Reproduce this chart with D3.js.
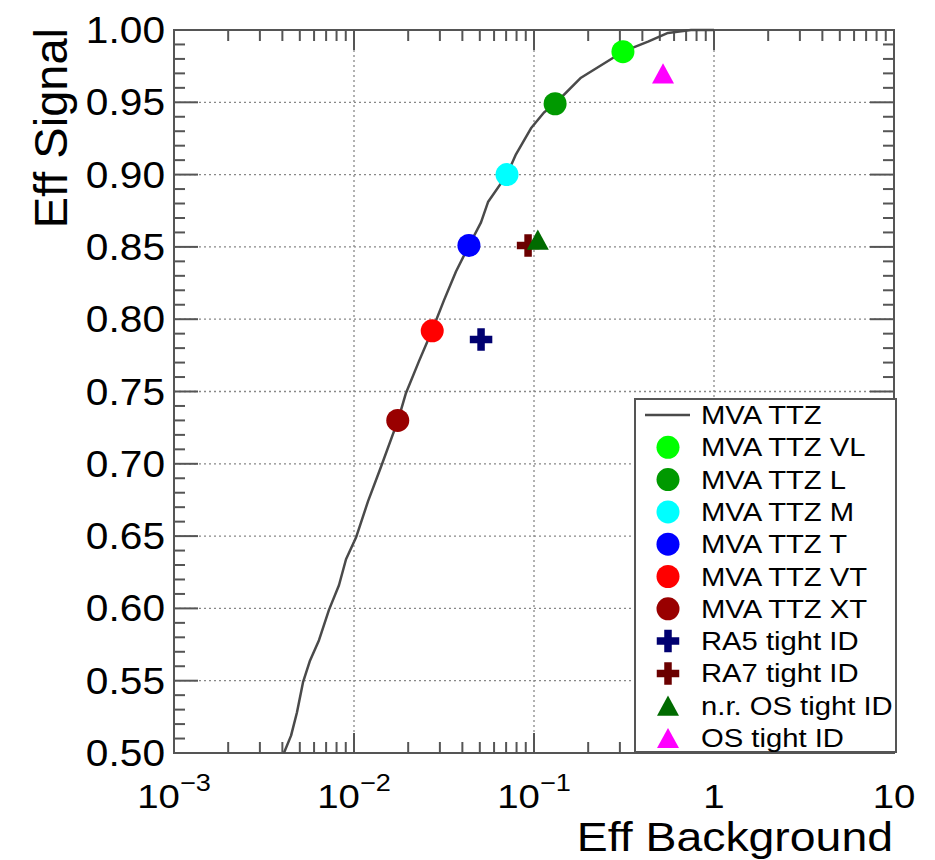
<!DOCTYPE html>
<html><head><meta charset="utf-8">
<script src="https://cdn.jsdelivr.net/npm/d3@7"></script>
<style>body{margin:0;background:#fff}svg{display:block}text{font-family:"Liberation Sans",Arial,sans-serif;fill:#000}</style>
</head><body>
<script>
// ROC curve (MVA TTZ)
const curveFpr = [0.00408,0.00447,0.00482,0.00521,0.0057,0.00639,0.00726,0.00825,0.00903,0.01026,0.01196,0.01413,0.01755,0.01945,0.02297,0.02712,0.0316,0.03687,0.04355,0.05077,0.05553,0.0708,0.0794,0.0962,0.1136,0.1308,0.1824,0.312,0.43,0.555,0.745,1.0];
const curveTpr = [0.500,0.512,0.528,0.549,0.564,0.578,0.599,0.616,0.634,0.649,0.674,0.698,0.730,0.749,0.771,0.792,0.813,0.833,0.851,0.867,0.881,0.900,0.914,0.932,0.943,0.949,0.967,0.985,0.992,0.998,1.0,1.0];
// working points
const pointNames = ["MVA TTZ VL","MVA TTZ L","MVA TTZ M","MVA TTZ T","MVA TTZ VT","MVA TTZ XT","RA5 tight ID","RA7 tight ID","n.r. OS tight ID","OS tight ID"];
const pointFpr = [0.312,0.131,0.0708,0.0435,0.0272,0.0175,0.0508,0.0927,0.105,0.521];
const pointTpr = [0.985,0.949,0.900,0.851,0.792,0.730,0.786,0.851,0.855,0.970];
const pointShape = ["circle","circle","circle","circle","circle","circle","cross","cross","triangle","triangle"];
const pointColor = ["#00ff00","#009900","#00ffff","#0000ff","#ff0000","#990000","#000070","#6b0000","#006b00","#ff00ff"];
const curveName = "MVA TTZ";
const xTickLabels = [["10","\u22123"],["10","\u22122"],["10","\u22121"],["1",""],["10",""]];
const xTickValues = [1e-3,1e-2,1e-1,1,10];
const xTitle = "Eff Background", yTitle = "Eff Signal";

const W=935,H=860, L=174, R=894, T=30, B=753, SX=1.13, SXL=1.17;
const svg = d3.select("body").append("svg").attr("width",W).attr("height",H);
const x = d3.scaleLog().domain([1e-3,10]).range([L,R]);
const y = d3.scaleLinear().domain([0.5,1]).range([B,T]);
const axisCol="#555";

// grid
const gx=[1e-2,1e-1,1], gy=d3.range(0.55,0.999,0.05);
svg.append("g").selectAll("line").data(gx).join("line")
  .attr("x1",d=>x(d)).attr("x2",d=>x(d)).attr("y1",T).attr("y2",B)
  .attr("stroke","#888").attr("stroke-width",1.3).attr("stroke-dasharray","2,3");
svg.append("g").selectAll("line").data(gy).join("line")
  .attr("y1",d=>y(d)).attr("y2",d=>y(d)).attr("x1",L).attr("x2",R)
  .attr("stroke","#888").attr("stroke-width",1.3).attr("stroke-dasharray","2,3");

// ticks
const xt = x.ticks();
const isMajX = d=>Math.abs(Math.log10(d)-Math.round(Math.log10(d)))<1e-6;
const tg = svg.append("g").attr("stroke",axisCol).attr("stroke-width",2);
xt.forEach(d=>{const len=isMajX(d)?20:11;
  tg.append("line").attr("x1",x(d)).attr("x2",x(d)).attr("y1",B).attr("y2",B-len);
  tg.append("line").attr("x1",x(d)).attr("x2",x(d)).attr("y1",T).attr("y2",T+len);});
const yt = d3.range(0,51).map(i=>0.5+i*0.01);
yt.forEach((d,i)=>{const len=(i%5===0)?24:11;
  tg.append("line").attr("y1",y(d)).attr("y2",y(d)).attr("x1",L).attr("x2",L+len);
  tg.append("line").attr("y1",y(d)).attr("y2",y(d)).attr("x1",R).attr("x2",R-len);});

// frame
svg.append("rect").attr("x",L).attr("y",T).attr("width",R-L).attr("height",B-T)
  .attr("fill","none").attr("stroke",axisCol).attr("stroke-width",2);

// y tick labels
yt.filter((d,i)=>i%5===0).forEach(d=>{
  svg.append("text").attr("transform",`translate(165,${y(d)+13}) scale(${SX},1)`)
    .attr("text-anchor","end").attr("font-size",36).text(d3.format(".2f")(d));
});
// x tick labels
xTickValues.forEach((v,i)=>{
  const t=svg.append("text").attr("transform",`translate(${x(v)},808) scale(${SX},1)`)
    .attr("text-anchor","middle").attr("font-size",34);
  t.append("tspan").text(xTickLabels[i][0]);
  if(xTickLabels[i][1]) t.append("tspan").attr("font-size",24).attr("dy",-17).text(xTickLabels[i][1]);
});
// axis titles
svg.append("text").attr("transform",`translate(893,851) scale(1.16,1)`).attr("text-anchor","end")
  .attr("font-size",40).text(xTitle);
svg.append("text").attr("transform",`translate(67,28) rotate(-90)`).attr("text-anchor","end")
  .attr("font-size",47).text(yTitle);

// curve
const pts = curveFpr.map((f,i)=>[f,curveTpr[i]]);
svg.append("path").datum(pts).attr("fill","none").attr("stroke","#4a4a4a").attr("stroke-width",2.5)
  .attr("stroke-linejoin","round")
  .attr("d",d3.line().x(d=>x(d[0])).y(d=>y(d[1])));

// symbols
const triSym = {draw(ctx,size){const w=Math.sqrt(size),h=w*0.92;ctx.moveTo(0,-h/2);ctx.lineTo(w/2,h/2);ctx.lineTo(-w/2,h/2);ctx.closePath();}};
function symPath(shape){
  if(shape==="circle") return d3.symbol(d3.symbolCircle, Math.PI*11.5*11.5)();
  if(shape==="cross") return d3.symbol(d3.symbolCross, 5*7.5*7.5)();
  return d3.symbol(triSym, 22*22)();
}
svg.append("g").selectAll("path").data(pointNames.map((n,i)=>i)).join("path")
  .attr("transform",i=>`translate(${x(pointFpr[i])},${y(pointTpr[i])})`)
  .attr("d",i=>symPath(pointShape[i])).attr("fill",i=>pointColor[i]);

// legend
const lg = svg.append("g");
lg.append("rect").attr("x",635).attr("y",399).attr("width",261).attr("height",353)
  .attr("fill","#fff").attr("stroke",axisCol).attr("stroke-width",2);
const rowY = i=>415+i*32.3;
lg.append("line").attr("x1",645).attr("x2",690).attr("y1",rowY(0)).attr("y2",rowY(0))
  .attr("stroke","#4a4a4a").attr("stroke-width",2.5);
lg.append("text").attr("transform",`translate(701,${rowY(0)+9}) scale(${SXL},1)`).attr("font-size",25).text(curveName);
pointNames.forEach((n,i)=>{
  lg.append("path").attr("transform",`translate(668,${rowY(i+1)})`).attr("d",symPath(pointShape[i])).attr("fill",pointColor[i]);
  lg.append("text").attr("transform",`translate(701,${rowY(i+1)+9}) scale(${SXL},1)`).attr("font-size",25).text(n);
});
</script>
</body></html>
